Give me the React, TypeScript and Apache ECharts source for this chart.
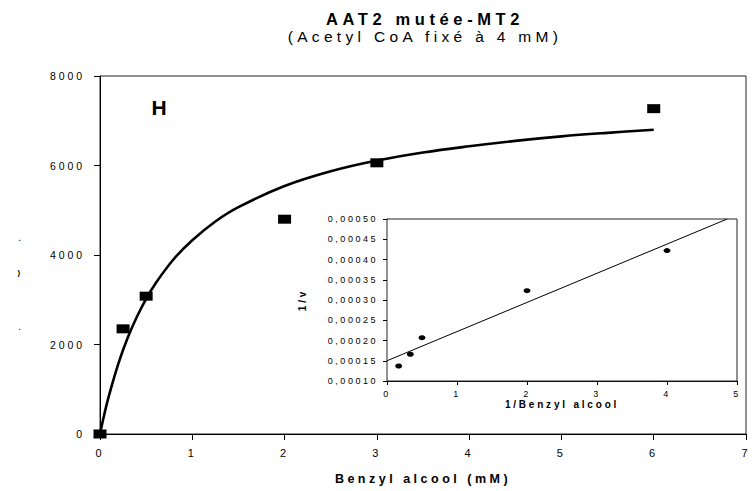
import React, { useEffect, useRef } from "react";
import * as echarts from "echarts";

// Main chart: substrate concentration (mM) vs velocity
const concentrations = [0, 0.25, 0.5, 2, 3, 6];
const velocities = [0, 2350, 3080, 4800, 6060, 7270];
// Fitted hyperbola, points
const fitX = [0, 0.05, 0.1, 0.2, 0.3, 0.4, 0.5, 0.6, 0.8, 1, 1.25, 1.5, 2, 2.5, 3, 3.5, 4, 4.5, 5, 5.5, 6];
const fitY = [0, 470, 880, 1580, 2150, 2620, 3020, 3360, 3910, 4330, 4750, 5070, 5540, 5870, 6110, 6290, 6430, 6550, 6650, 6730, 6800];
// Inset: Lineweaver-Burk
const invConc = [0.167, 0.333, 0.5, 2, 4];
const invVel = [0.000137, 0.000166, 0.000207, 0.000323, 0.000422];
const lbLineX = [0, 4.86];
const lbLineY = [0.00015, 0.0005];

const titleText = "AAT2 mutée-MT2";
const subtitleText = "(Acetyl CoA fixé à 4 mM)";
const panelLabel = "H";
const kmText = "Km = 770 uM";
const mainXName = "Benzyl alcool (mM)";
const insetXName = "1/Benzyl alcool";
const insetYName = "1/v";

const FONT = "'Liberation Sans', Arial, sans-serif";

export default function App() {
  const ref = useRef<HTMLDivElement>(null);
  useEffect(() => {
    if (!ref.current) return;
    const chart = echarts.init(ref.current, null, { renderer: "svg" });
    const axisLine = { show: true, lineStyle: { color: "#000", width: 1 } };
    chart.setOption({
      animation: false,
      backgroundColor: "#fff",
      textStyle: { fontFamily: FONT, color: "#000" },
      grid: [
        { left: 100, right: 10, top: 76, bottom: 57, show: true, borderColor: "#222", borderWidth: 1, backgroundColor: "#fff" },
        { left: 387, right: 19, top: 219, bottom: 110, show: true, borderColor: "#222", borderWidth: 1, backgroundColor: "#fff", z: 3 },
      ],
      xAxis: [
        {
          type: "value", gridIndex: 0, min: 0, max: 7, interval: 1,
          axisLine, axisTick: { show: true, length: 6, lineStyle: { color: "#000" } },
          axisLabel: { fontSize: 11, color: "#000", margin: 13, fontFamily: FONT },
          splitLine: { show: false },
          name: mainXName, nameLocation: "middle", nameGap: 38,
          nameTextStyle: { fontSize: 12.5, fontWeight: "bold", color: "#000", fontFamily: FONT },
        },
        {
          type: "value", gridIndex: 1, min: 0, max: 5, interval: 1,
          axisLine, axisTick: { show: true, length: 4, lineStyle: { color: "#000" } },
          axisLabel: { fontSize: 9, color: "#000", margin: 8, fontFamily: FONT },
          splitLine: { show: false },
          name: insetXName, nameLocation: "middle", nameGap: 18,
          nameTextStyle: { fontSize: 10, fontWeight: "bold", color: "#000", fontFamily: FONT },
        },
      ],
      yAxis: [
        {
          type: "value", gridIndex: 0, min: 0, max: 8000, interval: 2000,
          axisLine, axisTick: { show: true, length: 6, lineStyle: { color: "#000" } },
          axisLabel: { fontSize: 10.5, color: "#000", margin: 15, fontFamily: FONT, formatter: (v: number) => String(v) },
          splitLine: { show: false },
        },
        {
          type: "value", gridIndex: 1, min: 0.0001, max: 0.0005, interval: 0.00005,
          axisLine, axisTick: { show: true, length: 4, lineStyle: { color: "#000" } },
          axisLabel: {
            fontSize: 9, color: "#000", margin: 9, fontFamily: FONT,
            formatter: (v: number) => v.toFixed(5).replace(".", ","),
          },
          splitLine: { show: false },
          name: insetYName, nameLocation: "middle", nameGap: 80,
          nameTextStyle: { fontSize: 10, fontWeight: "bold", color: "#000", fontFamily: FONT },
        },
      ],
      series: [
        {
          type: "line", xAxisIndex: 0, yAxisIndex: 0, smooth: 0.4, showSymbol: false,
          lineStyle: { color: "#000", width: 2.6 },
          data: fitX.map((x, i) => [x, fitY[i]]),
          z: 2,
        },
        {
          type: "scatter", xAxisIndex: 0, yAxisIndex: 0, symbol: "rect", symbolSize: [13, 9],
          itemStyle: { color: "#000", opacity: 1 },
          data: concentrations.map((x, i) => [x, velocities[i]]),
          z: 3,
        },
        {
          type: "line", xAxisIndex: 1, yAxisIndex: 1, showSymbol: false,
          lineStyle: { color: "#000", width: 1 },
          data: lbLineX.map((x, i) => [x, lbLineY[i]]),
          z: 4,
        },
        {
          type: "scatter", xAxisIndex: 1, yAxisIndex: 1, symbol: "circle", symbolSize: [7, 5],
          itemStyle: { color: "#000", opacity: 1 },
          data: invConc.map((x, i) => [x, invVel[i]]),
          z: 5,
        },
      ],
      graphic: [
        { type: "text", x: 425, y: 19, style: { text: titleText, fontSize: 16.5, fontWeight: "bold", fontFamily: FONT, fill: "#000", align: "center", verticalAlign: "middle" } },
        { type: "text", x: 425, y: 36, style: { text: subtitleText, fontSize: 15.5, fontFamily: FONT, fill: "#000", align: "center", verticalAlign: "middle" } },
        { type: "text", x: 162, y: 107, style: { text: panelLabel, fontSize: 21, fontWeight: "bold", fontFamily: FONT, fill: "#000", align: "center", verticalAlign: "middle" } },
        { type: "text", x: 595, y: 322, style: { text: kmText, fontSize: 10.5, fontFamily: FONT, fill: "#000", align: "left", verticalAlign: "middle" } },
        { type: "text", x: 21, y: 237, style: { text: ".", fontSize: 10, fontFamily: FONT, fill: "#000", align: "center", verticalAlign: "middle" } },
        { type: "text", x: 20, y: 272, style: { text: ")", fontSize: 8, fontWeight: "bold", fontFamily: FONT, fill: "#000", align: "center", verticalAlign: "middle" } },
        { type: "text", x: 21, y: 326, style: { text: ".", fontSize: 10, fontFamily: FONT, fill: "#000", align: "center", verticalAlign: "middle" } },
      ],
    });
    return () => chart.dispose();
  }, []);
  return (
    <>
      <style>{`.chartbox text { letter-spacing: 0.28em; }`}</style>
      <div
        ref={ref}
        className="chartbox"
        style={{ position: "fixed", left: 0, top: 0, width: 756, height: 491, background: "#fff" }}
      />
    </>
  );
}
